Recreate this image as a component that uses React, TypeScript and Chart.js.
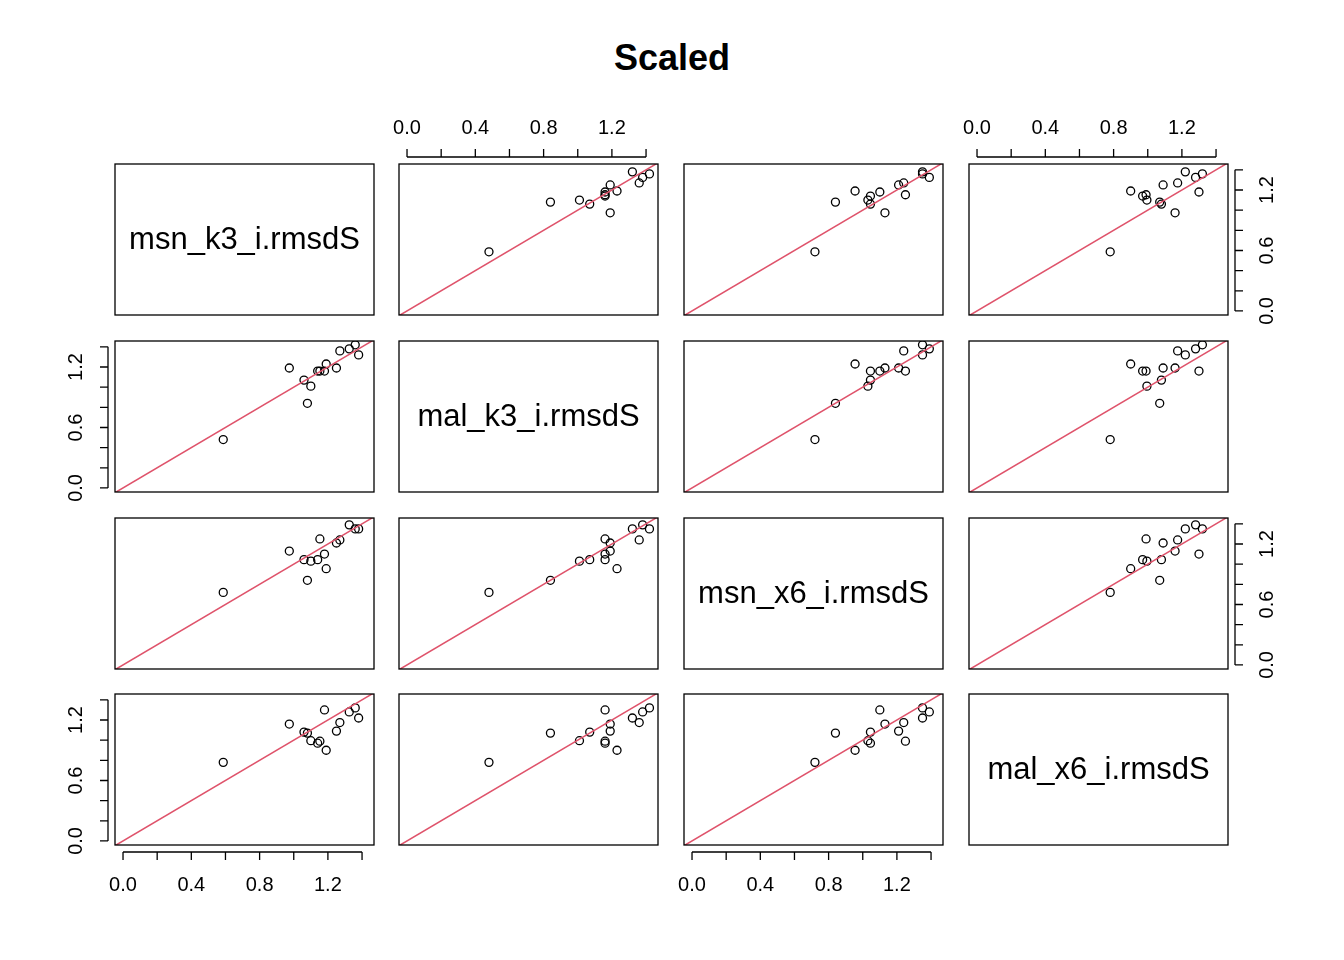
import { useEffect, useRef } from 'react';
import { Chart, registerables } from 'chart.js';

Chart.register(...registerables);

const varNames = ['msn_k3_i.rmsdS', 'mal_k3_i.rmsdS', 'msn_x6_i.rmsdS', 'mal_x6_i.rmsdS'];
const msnK3 = [0.587, 0.974, 1.06, 1.08, 1.1, 1.14, 1.153, 1.18, 1.19, 1.25, 1.27, 1.325, 1.36, 1.38];
const malK3 = [0.48, 1.19, 1.07, 0.84, 1.01, 1.16, 1.16, 1.16, 1.23, 1.19, 1.36, 1.38, 1.42, 1.32];
const msnX6 = [0.72, 1.13, 1.045, 0.84, 1.03, 1.045, 1.25, 1.1, 0.955, 1.21, 1.24, 1.39, 1.35, 1.35];
const malX6 = [0.78, 1.16, 1.08, 1.07, 0.995, 0.97, 0.99, 1.3, 0.9, 1.09, 1.175, 1.28, 1.32, 1.22];
const series = [msnK3, malK3, msnX6, malX6];
const xTicks = [0, 0.2, 0.4, 0.6, 0.8, 1.0, 1.2, 1.4];
const xLabels = [0, 0.4, 0.8, 1.2];
const yTicks = [0, 0.2, 0.4, 0.6, 0.8, 1.0, 1.2, 1.4];
const yLabels = [0, 0.6, 1.2];

const colLeft = [115, 399, 684, 969];
const rowTop = [164, 341, 518, 694];
const PW = 259;
const PH = 151;
const PAD = 70;
const FONT = '"Liberation Sans", Arial, sans-serif';

const panelPlugin = {
  id: 'pairsPanel',
  afterDraw(chart: any) {
    const o = chart.options.plugins.pairsPanel;
    const { ctx, chartArea: a } = chart;
    const xs = chart.scales.x;
    const ys = chart.scales.y;
    ctx.save();
    ctx.strokeStyle = '#000';
    ctx.lineWidth = 1.3;
    ctx.strokeRect(a.left, a.top, a.right - a.left, a.bottom - a.top);
    if (o.label) {
      ctx.fillStyle = '#000';
      ctx.font = `31px ${FONT}`;
      ctx.textAlign = 'center';
      ctx.textBaseline = 'middle';
      ctx.fillText(o.label, (a.left + a.right) / 2, (a.top + a.bottom) / 2 + 1);
    }
    ctx.font = `20px ${FONT}`;
    ctx.fillStyle = '#000';
    for (const side of o.axes as string[]) {
      ctx.beginPath();
      if (side === 'top' || side === 'bottom') {
        const y0 = side === 'top' ? a.top - 7 : a.bottom + 7;
        const dir = side === 'top' ? -1 : 1;
        ctx.moveTo(xs.getPixelForValue(xTicks[0]), y0);
        ctx.lineTo(xs.getPixelForValue(xTicks[xTicks.length - 1]), y0);
        for (const t of xTicks) {
          const px = xs.getPixelForValue(t);
          ctx.moveTo(px, y0);
          ctx.lineTo(px, y0 + dir * 8);
        }
        ctx.stroke();
        ctx.textAlign = 'center';
        ctx.textBaseline = 'middle';
        for (const t of xLabels) {
          ctx.fillText(t.toFixed(1), xs.getPixelForValue(t), y0 + dir * (side === 'top' ? 29 : 33));
        }
      } else {
        const x0 = side === 'left' ? a.left - 7 : a.right + 7;
        const dir = side === 'left' ? -1 : 1;
        ctx.moveTo(x0, ys.getPixelForValue(yTicks[0]));
        ctx.lineTo(x0, ys.getPixelForValue(yTicks[yTicks.length - 1]));
        for (const t of yTicks) {
          const py = ys.getPixelForValue(t);
          ctx.moveTo(x0, py);
          ctx.lineTo(x0 + dir * 8, py);
        }
        ctx.stroke();
        for (const t of yLabels) {
          ctx.save();
          ctx.translate(x0 + dir * 32, ys.getPixelForValue(t));
          ctx.rotate(-Math.PI / 2);
          ctx.textAlign = 'center';
          ctx.textBaseline = 'middle';
          ctx.fillText(t.toFixed(1), 0, 0);
          ctx.restore();
        }
      }
    }
    ctx.restore();
  },
};

function axesFor(r: number, c: number) {
  const axes: string[] = [];
  if (r === 0 && c % 2 === 1) axes.push('top');
  if (r === 3 && c % 2 === 0) axes.push('bottom');
  if (c === 0 && r % 2 === 1) axes.push('left');
  if (c === 3 && r % 2 === 0) axes.push('right');
  return axes;
}

function Panel({ r, c }: { r: number; c: number }) {
  const ref = useRef<HTMLCanvasElement>(null);
  useEffect(() => {
    if (!ref.current) return;
    const diag = r === c;
    const pts = diag ? [] : series[c].map((v, i) => ({ x: v, y: series[r][i] }));
    const chart = new Chart(ref.current, {
      type: 'scatter',
      data: {
        datasets: [
          {
            data: diag ? [] : [{ x: -0.2, y: -0.2 }, { x: 1.7, y: 1.7 }],
            showLine: true,
            borderColor: '#DF536B',
            borderWidth: 1.5,
            pointRadius: 0,
          },
          {
            data: pts,
            pointRadius: 4,
            pointBorderColor: '#000',
            pointBackgroundColor: 'rgba(0,0,0,0)',
            pointBorderWidth: 1.3,
          },
        ],
      },
      options: {
        animation: false,
        responsive: false,
        layout: { padding: PAD },
        plugins: { legend: { display: false }, tooltip: { enabled: false }, pairsPanel: { label: diag ? varNames[r] : '', axes: axesFor(r, c) } } as any,
        scales: {
          x: { type: 'linear', display: false, min: -0.047, max: 1.47 },
          y: { type: 'linear', display: false, min: -0.04, max: 1.458 },
        },
      },
      plugins: [panelPlugin],
    });
    return () => chart.destroy();
  }, [r, c]);
  return (
    <canvas
      ref={ref}
      width={PW + 2 * PAD}
      height={PH + 2 * PAD}
      style={{ position: 'absolute', left: colLeft[c] - PAD, top: rowTop[r] - PAD, width: PW + 2 * PAD, height: PH + 2 * PAD }}
    />
  );
}

export default function App() {
  const cells: JSX.Element[] = [];
  for (let r = 0; r < 4; r++) for (let c = 0; c < 4; c++) cells.push(<Panel key={`${r}-${c}`} r={r} c={c} />);
  return (
    <div style={{ position: 'absolute', left: 0, top: 0, width: 1344, height: 960, background: '#fff', fontFamily: FONT }}>
      <div style={{ position: 'absolute', top: 37, left: 0, width: 1344, textAlign: 'center', fontSize: 36, fontWeight: 'bold' }}>Scaled</div>
      {cells}
    </div>
  );
}
